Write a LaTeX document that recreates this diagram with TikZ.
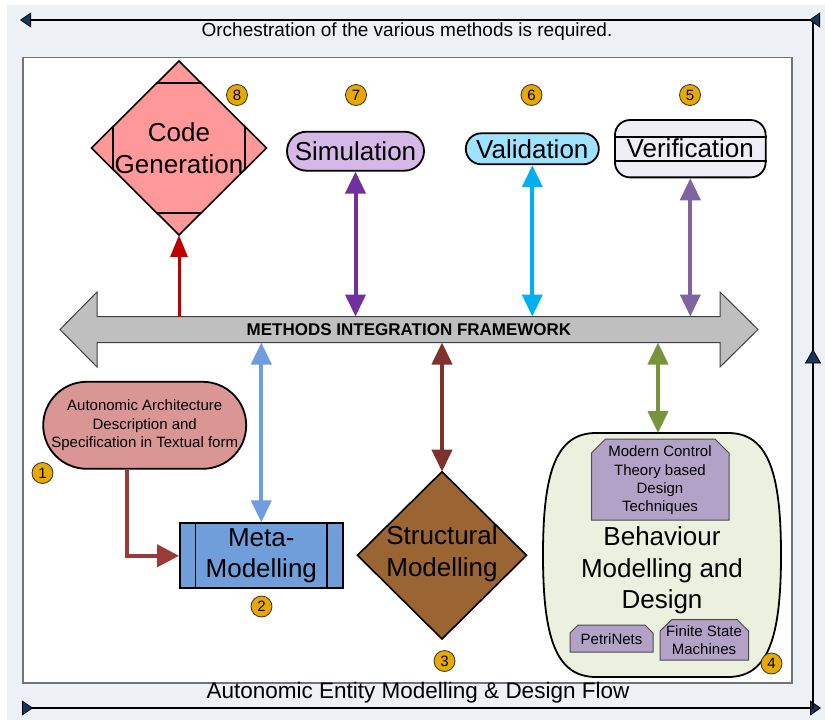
\documentclass[tikz,border=0pt]{standalone}
\usepackage{fontspec}
\setmainfont{Liberation Sans}
\usetikzlibrary{arrows.meta,calc}
\definecolor{bgc}{RGB}{237,240,245}
\definecolor{navy}{RGB}{23,55,94}
\definecolor{cgfill}{RGB}{255,153,153}
\definecolor{simfill}{RGB}{214,184,232}
\definecolor{valfill}{RGB}{158,226,255}
\definecolor{verfill}{RGB}{240,238,245}
\definecolor{fwfill}{RGB}{191,191,191}
\definecolor{aafill}{RGB}{217,150,148}
\definecolor{mmfill}{RGB}{111,158,218}
\definecolor{smfill}{RGB}{154,101,51}
\definecolor{bmfill}{RGB}{235,241,222}
\definecolor{subfill}{RGB}{179,162,199}
\definecolor{badgec}{RGB}{232,168,0}
\definecolor{cgarrow}{RGB}{192,0,0}
\definecolor{simarrow}{RGB}{112,48,160}
\definecolor{valarrow}{RGB}{0,176,240}
\definecolor{verarrow}{RGB}{128,100,162}
\definecolor{mmarrow}{RGB}{110,158,224}
\definecolor{smarrow}{RGB}{127,49,44}
\definecolor{bmarrow}{RGB}{119,147,60}
\definecolor{aaarrow}{RGB}{155,59,55}
\tikzset{
  bigtext/.style={font=\fontsize{26}{31.5}\selectfont, align=center},
  smalltext/.style={font=\fontsize{15}{18.4}\selectfont, align=center},
  shapebox/.style={draw=black, line width=1.8pt},
  subbox/.style={draw=black!70, line width=1pt, fill=subfill},
  badge/.style={circle, draw=black!80, line width=0.8pt, fill=badgec, minimum size=21pt, inner sep=0pt, font=\fontsize{15}{15}\selectfont},
  link/.style={line width=4pt, arrows={Triangle[length=22pt,width=20pt]-Triangle[length=22pt,width=20pt]}},
  frameline/.style={line width=2.5pt, black}
}
\begin{document}
\begin{tikzpicture}[x=1pt,y=-1pt]
\useasboundingbox (0,0) rectangle (825,720);
% background and panel
\fill[bgc] (7,5) rectangle (825,720);
\draw[draw=black!55, line width=1.2pt, fill=white] (23,57.5) rectangle (792,683);

% outer flow lines
\coordinate (bl) at (22,708);
\coordinate (br) at (821,708);
\coordinate (rb) at (813,709);
\coordinate (rt) at (813,19);
\coordinate (tr) at (820,20);
\coordinate (tl) at (20,20);
\draw[frameline, {Triangle[reversed,length=11pt,width=15pt,line width=0.8pt,fill=navy]}-{Triangle[length=11pt,width=15pt,line width=0.8pt,fill=navy]}] (bl) -- (br);
\draw[frameline] (rb) -- (rt);
\draw[fill=navy, draw=black, line width=0.8pt] (813,350) -- (805.5,363) -- (820.5,363) -- cycle;
\draw[frameline, {Triangle[reversed,length=11pt,width=15pt,line width=0.8pt,fill=navy]}-{Triangle[length=11pt,width=15pt,line width=0.8pt,fill=navy]}] (tr) -- (tl);
\node[font=\fontsize{19}{19}\selectfont] (orch) at (407,32) {Orchestration of the various methods is required.};
\node[font=\fontsize{22.5}{22.5}\selectfont] (flow) at (418,693) {Autonomic Entity Modelling \& Design Flow};

% framework double arrow
\draw[fill=fwfill, draw=black!75, line width=1pt] (60,329.5) -- (97,292) -- (97,316.5) -- (720,316.5) -- (720,292) -- (758,329.5) -- (720,367) -- (720,342.5) -- (97,342.5) -- (97,367) -- cycle;
\node[font=\bfseries\fontsize{17}{17}\selectfont] (fw) at (409,329.5) {METHODS INTEGRATION FRAMEWORK};
\coordinate (fwtop) at (0,316.5);
\coordinate (fwbot) at (0,342.5);

% Code generation diamond
\coordinate (cgc) at (179,148);
\coordinate (cgt) at (179,61);
\coordinate (cgb) at (179,235);
\coordinate (cgl) at (91.5,148);
\coordinate (cgr) at (266.5,148);
\draw[fill=cgfill, draw=black, line width=1.6pt] (cgt) -- (cgr) -- (cgb) -- (cgl) -- cycle;
\draw[line width=1.6pt] (157,83) -- (201,83);
\draw[line width=1.6pt] (157,213) -- (201,213);
\draw[line width=1.6pt] (113,126.6) -- (113,169.4);
\draw[line width=1.6pt] (245,126.6) -- (245,169.4);
\node[bigtext] (cg) at (cgc) {Code\\Generation};

% top method nodes
\node[shapebox, fill=simfill, rounded corners=19.5pt, minimum width=137pt, minimum height=39pt, inner sep=0pt, bigtext] (sim) at (355.5,151.2) {Simulation};
\node[shapebox, fill=valfill, rounded corners=15.5pt, minimum width=133pt, minimum height=31pt, inner sep=0pt, bigtext] (val) at (532.3,148.8) {Validation};
\node[shapebox, fill=verfill, rounded corners=15pt, minimum width=150.7pt, minimum height=57.3pt, inner sep=0pt, bigtext] (ver) at (690.3,148.7) {Verification};
\draw[line width=1.8pt] ($(ver.west)+(0,-12)$) -- ($(ver.east)+(0,-12)$);
\draw[line width=1.8pt] ($(ver.west)+(0,12.3)$) -- ($(ver.east)+(0,12.3)$);

% badges top
\node[badge] (b8) at (237,95) {8};
\node[badge] (b7) at (356,95) {7};
\node[badge] (b6) at (531.5,95) {6};
\node[badge] (b5) at (690,95) {5};

% arrows top
\draw[line width=3pt, cgarrow, -{Triangle[length=22pt,width=17pt]}] (cgb |- fwtop) -- (cgb);
\draw[link, simarrow] (sim.south) -- (sim.south |- fwtop);
\draw[link, valarrow] (val.south) -- (val.south |- fwtop);
\draw[link, verarrow] (ver.south) -- (ver.south |- fwtop);

% Autonomic architecture
\node[shapebox, fill=aafill, rounded corners=43.5pt, minimum width=203pt, minimum height=87pt, inner sep=0pt, smalltext] (aa) at (144.7,425.3) {Autonomic Architecture\\Description and\\Specification in Textual form};
\node[badge] (b1) at (42.5,473) {1};

% Meta-Modelling
\node[shapebox, fill=mmfill, minimum width=162.7pt, minimum height=65pt, inner sep=0pt, bigtext] (mm) at (261.3,555.8) {Meta-\\Modelling};
\draw[line width=1.8pt] ($(mm.north west)+(16.5,0)$) -- ($(mm.south west)+(16.5,0)$);
\draw[line width=1.8pt] ($(mm.north east)+(-16.5,0)$) -- ($(mm.south east)+(-16.5,0)$);
\node[badge] (b2) at (261.5,606.5) {2};

% Structural modelling diamond
\coordinate (smt) at (442,471.7);
\coordinate (smb) at (442,639);
\coordinate (sml) at (357.5,555.3);
\coordinate (smr) at (526.5,555.3);
\draw[fill=smfill, draw=black, line width=1.6pt] (smt) -- (smr) -- (smb) -- (sml) -- cycle;
\node[bigtext] (sm) at (442,554) {Structural\\Modelling};
\node[badge] (b3) at (444.5,661) {3};

% Behaviour modelling
\coordinate (bmt) at (658,433);
\draw[fill=bmfill, draw=black, line width=1.8pt] (596,433) -- (728,433) .. controls (768,433) and (781,472) .. (781,555) .. controls (781,638) and (768,677) .. (728,677) -- (596,677) .. controls (556,677) and (543,638) .. (543,555) .. controls (543,472) and (556,433) .. (596,433) -- cycle;
\draw[subbox] (591.5,453) -- (605.5,439) -- (715,439) -- (729,453) -- (729,520) -- (591.5,520) -- cycle;
\node[smalltext] (mct) at (660,480.5) {Modern Control\\Theory based\\Design\\Techniques};
\node[bigtext] (bm) at (662,570.5) {Behaviour\\Modelling and\\Design};
\draw[subbox] (570,633) -- (578,625) -- (645,625) -- (653,633) -- (653,652) -- (570,652) -- cycle;
\node[smalltext] (pn) at (611.5,639) {PetriNets};
\draw[subbox] (660,631) -- (672,619.5) -- (737,619.5) -- (748.5,631) -- (748.5,660) -- (660,660) -- cycle;
\node[smalltext] (fsm) at (704,640) {Finite State\\Machines};
\node[badge] (b4) at (771.5,663.5) {4};

% arrows bottom
\draw[link, mmarrow] (mm.north |- fwbot) -- (mm.north);
\draw[link, smarrow] (smt |- fwbot) -- (smt);
\draw[link, bmarrow] (bmt |- fwbot) -- (bmt);
\coordinate (aab) at (127,468.8);
\draw[line width=4pt, aaarrow, -{Triangle[length=22pt,width=22pt]}] (aab) |- (mm.west);
\end{tikzpicture}
\end{document}
